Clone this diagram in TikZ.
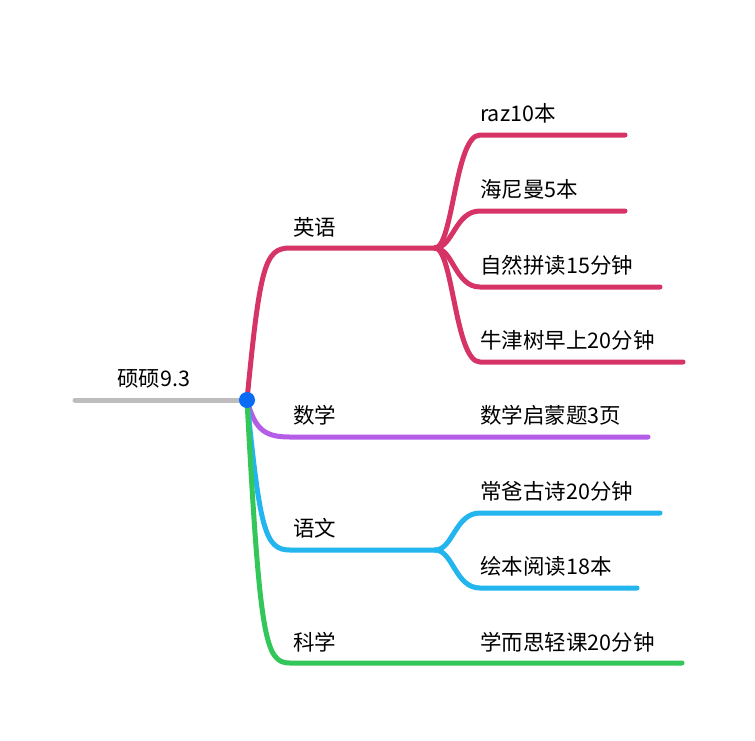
\documentclass[tikz,border=0pt]{standalone}
\usepackage{fontspec}
\setmainfont{Noto Sans CJK SC}
\usetikzlibrary{calc}
\begin{document}
\begin{tikzpicture}[x=1pt,y=-1pt,
  br/.style={line width=5pt,line cap=round},
  lab/.style={anchor=west,font=\fontsize{21.5}{25}\selectfont,inner sep=0pt}]
\useasboundingbox[fill=white] (0,0) rectangle (755,740);
\definecolor{cpink}{HTML}{D63467}
\definecolor{cpur}{HTML}{B45EE8}
\definecolor{cblue}{HTML}{22B5EE}
\definecolor{cgreen}{HTML}{33C659}
\definecolor{cgray}{HTML}{BDBDBD}
\definecolor{cdot}{HTML}{0A6CF5}
\coordinate (r0) at (75,400);
\coordinate (root) at (247,400);
\coordinate (en) at (290,248); \coordinate (enE) at (435,248);
\coordinate (ma) at (290,437); \coordinate (maE) at (648,437);
\coordinate (yw) at (290,550); \coordinate (ywE) at (435,550);
\coordinate (kx) at (290,663); \coordinate (kxE) at (682,663);
\coordinate (e1) at (480,135); \coordinate (e1E) at (625,135);
\coordinate (e2) at (480,211); \coordinate (e2E) at (625,211);
\coordinate (e3) at (480,287); \coordinate (e3E) at (660,287);
\coordinate (e4) at (480,362); \coordinate (e4E) at (683,362);
\coordinate (y1) at (480,513); \coordinate (y1E) at (660,513);
\coordinate (y2) at (480,588); \coordinate (y2E) at (637,588);
\draw[br,cgray] (r0) -- (root);
\node[lab] (t0) at (117,379) {硕硕9.3};
\draw[br,cpink] (root) .. controls (260,265) and (265,248) .. (en) -- (enE);
\foreach \c in {e1,e2,e3,e4}{
  \draw[br,cpink] (enE) .. controls ($(enE)+(18,0)$) and ($(\c)+(-25,0)$) .. (\c) -- (\c E);}
\draw[br,cpur] (root) .. controls (255,430) and (265,437) .. (ma) -- (maE);
\draw[br,cblue] (root) .. controls (260,530) and (265,550) .. (yw) -- (ywE);
\foreach \c in {y1,y2}{
  \draw[br,cblue] (ywE) .. controls ($(ywE)+(18,0)$) and ($(\c)+(-25,0)$) .. (\c) -- (\c E);}
\draw[br,cgreen] (root) .. controls (260,640) and (265,663) .. (kx) -- (kxE);
\fill[cdot] (root) circle (8);
\node[lab] (l1) at (293,227) {英语};
\node[lab] (l2) at (293,415) {数学};
\node[lab] (l3) at (293,528) {语文};
\node[lab] (l4) at (293,642) {科学};
\node[lab] (n1) at (480,113) {raz10本};
\node[lab] (n2) at (480,189) {海尼曼5本};
\node[lab] (n3) at (480,265) {自然拼读15分钟};
\node[lab] (n4) at (480,340) {牛津树早上20分钟};
\node[lab] (n5) at (480,415) {数学启蒙题3页};
\node[lab] (n6) at (480,491) {常爸古诗20分钟};
\node[lab] (n7) at (480,566) {绘本阅读18本};
\node[lab] (n8) at (480,642) {学而思轻课20分钟};
\end{tikzpicture}
\end{document}
